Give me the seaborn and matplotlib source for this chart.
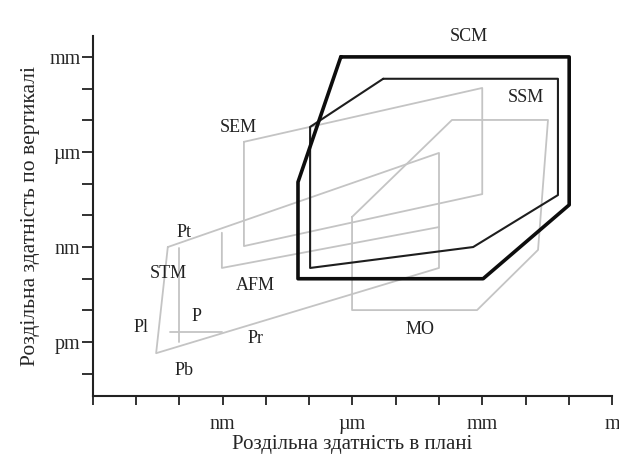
import numpy as np
import pandas as pd
import seaborn as sns
import matplotlib.pyplot as plt

# vertices as log10(metres): x = lateral resolution, y = vertical resolution
scm_x = [-6.27, -0.99, -0.99, -2.98, -7.26, -7.26, -6.27]
scm_y = [-3.0, -3.0, -7.67, -10.0, -10.0, -6.95, -3.0]

ssm_x = [-5.29, -1.25, -1.25, -3.21, -6.98, -6.98, -5.29]
ssm_y = [-3.69, -3.69, -7.36, -9.0, -9.66, -5.21, -3.69]

sem_x = [-8.51, -3.0, -3.0, -8.51, -8.51]
sem_y = [-5.68, -3.98, -7.33, -8.97, -5.68]

stm_x = [-10.27, -4.0, -4.0, -10.54, -10.27]
stm_y = [-9.0, -6.03, -9.66, -12.35, -9.0]

afm_x = [-9.02, -9.02, -4.0]
afm_y = [-8.55, -9.66, -8.37]

p_vert_x = [-10.01, -10.01]
p_vert_y = [-9.03, -12.0]
p_hor_x = [-10.22, -9.02]
p_hor_y = [-11.68, -11.68]

mo_x = [-6.01, -3.70, -1.48, -1.71, -3.12, -6.01, -6.01]
mo_y = [-8.05, -4.99, -4.99, -9.09, -10.99, -10.99, -8.05]

labels = ["SCM", "SSM", "SEM", "AFM", "MO", "STM", "Pt", "Pl", "P", "Pr", "Pb"]
label_x = [-3.31, -2.0, -8.65, -8.25, -4.45, -10.25, -9.9, -10.9, -9.6, -8.25, -9.9]
label_y = [-2.37, -4.29, -5.22, -10.22, -11.6, -9.82, -8.55, -11.55, -11.2, -11.9, -12.9]

x_ticks = list(range(-12, 1))
x_ticklabels = ["", "", "", "nm", "", "", "µm", "", "", "mm", "", "", "m"]
y_ticks = list(range(-13, -2))
y_ticklabels = ["", "pm", "", "", "nm", "", "", "µm", "", "", "mm"]

sns.set_style("white")
plt.rcParams['font.family'] = ['Liberation Serif', 'DejaVu Serif']

fig = plt.figure(figsize=(6.19, 4.59), dpi=100)
ax = fig.add_axes([0.1502, 0.1373, 0.8385, 0.7843])

gray = "#c4c4c4"
gray_lines = [
    (stm_x, stm_y, "-"),
    (sem_x, sem_y, "-"),
    (afm_x, afm_y, "-"),
    (p_vert_x, p_vert_y, "-"),
    (p_hor_x, p_hor_y, "-"),
    (mo_x, mo_y, "-"),
]
for xs, ys, ls in gray_lines:
    sns.lineplot(x=xs, y=ys, sort=False, estimator=None, color=gray,
                 linewidth=1.3, linestyle=ls, ax=ax)

sns.lineplot(x=ssm_x, y=ssm_y, sort=False, estimator=None, color="#1e1e1e",
             linewidth=1.5, ax=ax)
sns.lineplot(x=scm_x, y=scm_y, sort=False, estimator=None, color="#0d0d0d",
             linewidth=2.6, ax=ax)

for t, lx, ly in zip(labels, label_x, label_y):
    ax.text(lx, ly, t, ha="center", va="center", fontsize=13, color="#222222")

ax.set_xlim(-12, 0)
ax.set_ylim(-13.7, -2.34)
ax.set_xticks(x_ticks)
ax.set_xticklabels(x_ticklabels, fontsize=14.5)
ax.set_yticks(y_ticks)
ax.set_yticklabels(y_ticklabels, fontsize=14.5)
ax.tick_params(axis="x", bottom=True, direction="out", length=6.5, width=1.3,
               pad=7, color="#222222")
ax.tick_params(axis="y", left=True, direction="out", length=8, width=1.3,
               pad=1, color="#222222")

for side in ["top", "right"]:
    ax.spines[side].set_visible(False)
for side in ["left", "bottom"]:
    ax.spines[side].set_linewidth(1.5)
    ax.spines[side].set_color("#222222")

ax.set_xlabel("Роздільна здатність в плані", fontsize=15, labelpad=1)
ax.set_ylabel("Роздільна здатність по вертикалі", fontsize=15.5, labelpad=7)

fig.savefig("out.png", dpi=100)
